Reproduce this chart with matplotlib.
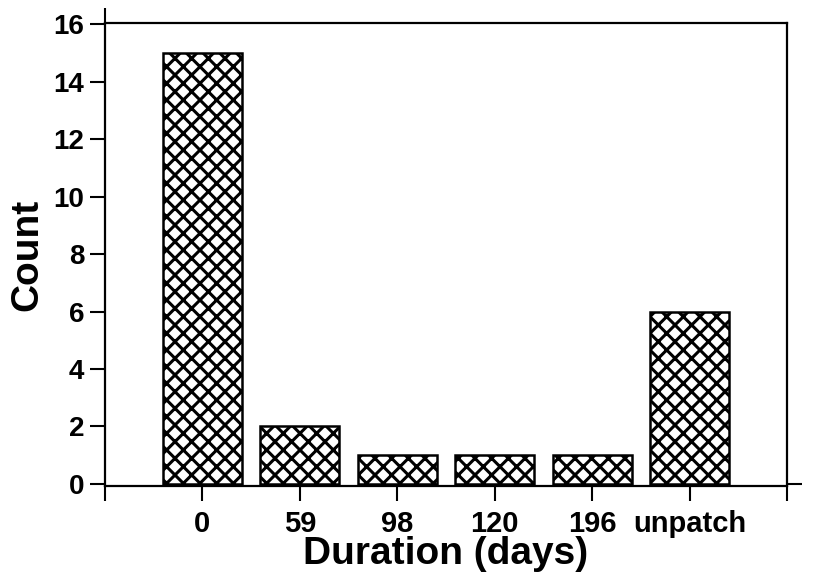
import matplotlib
matplotlib.use('Agg')
import matplotlib.pyplot as plt

# data
categories = ['0', '59', '98', '120', '196', 'unpatch']
counts = [15, 2, 1, 1, 1, 6]
y_ticks = [0, 2, 4, 6, 8, 10, 12, 14, 16]

plt.rcParams['font.family'] = ['Liberation Sans', 'DejaVu Sans']
plt.rcParams['font.weight'] = 'bold'
plt.rcParams['hatch.linewidth'] = 2.2
plt.rcParams['hatch.color'] = 'black'

fig = plt.figure(figsize=(8.3, 5.84), dpi=100)
ax = fig.add_axes([0.1265, 0.1678, 0.8217, 0.7928])

xpos = list(range(len(categories)))
ax.bar(xpos, counts, width=0.81, facecolor='white', edgecolor='black',
       linewidth=1.8, hatch='xx', zorder=2)

ax.set_xlim(-1, len(categories))
ax.set_ylim(-0.07, 16.035)

# x ticks incl. the two empty end ticks
ax.set_xticks([-1] + xpos + [len(categories)])
ax.set_xticklabels([''] + categories + [''])
ax.set_yticks(y_ticks)
ax.set_yticklabels([str(v) for v in y_ticks])

ax.tick_params(axis='both', direction='out', length=11, width=1.5,
               colors='black')
ax.tick_params(axis='y', pad=4, labelsize=20)
ax.tick_params(axis='x', pad=6, labelsize=21)
for lab in ax.get_xticklabels() + ax.get_yticklabels():
    lab.set_fontweight('bold')

for sp in ax.spines.values():
    sp.set_linewidth(1.6)

# mirror axes: a single tick at the start of each (Igor style)
ax2 = ax.twinx()
ax2.set_ylim(ax.get_ylim())
ax2.set_yticks([0])
ax2.set_yticklabels([''])
ax2.tick_params(axis='y', direction='out', length=11, width=1.5)
ax3 = ax.twiny()
ax3.set_xlim(ax.get_xlim())
ax3.set_xticks([-1])
ax3.set_xticklabels([''])
ax3.tick_params(axis='x', direction='out', length=11, width=1.5)
for a in (ax2, ax3):
    for sp in a.spines.values():
        sp.set_visible(False)

ax.set_ylabel('Count', fontsize=28, fontweight='bold', labelpad=6)
ax.set_xlabel('Duration (days)', fontsize=28, fontweight='bold', labelpad=-1)

fig.savefig('out.png', dpi=100)
